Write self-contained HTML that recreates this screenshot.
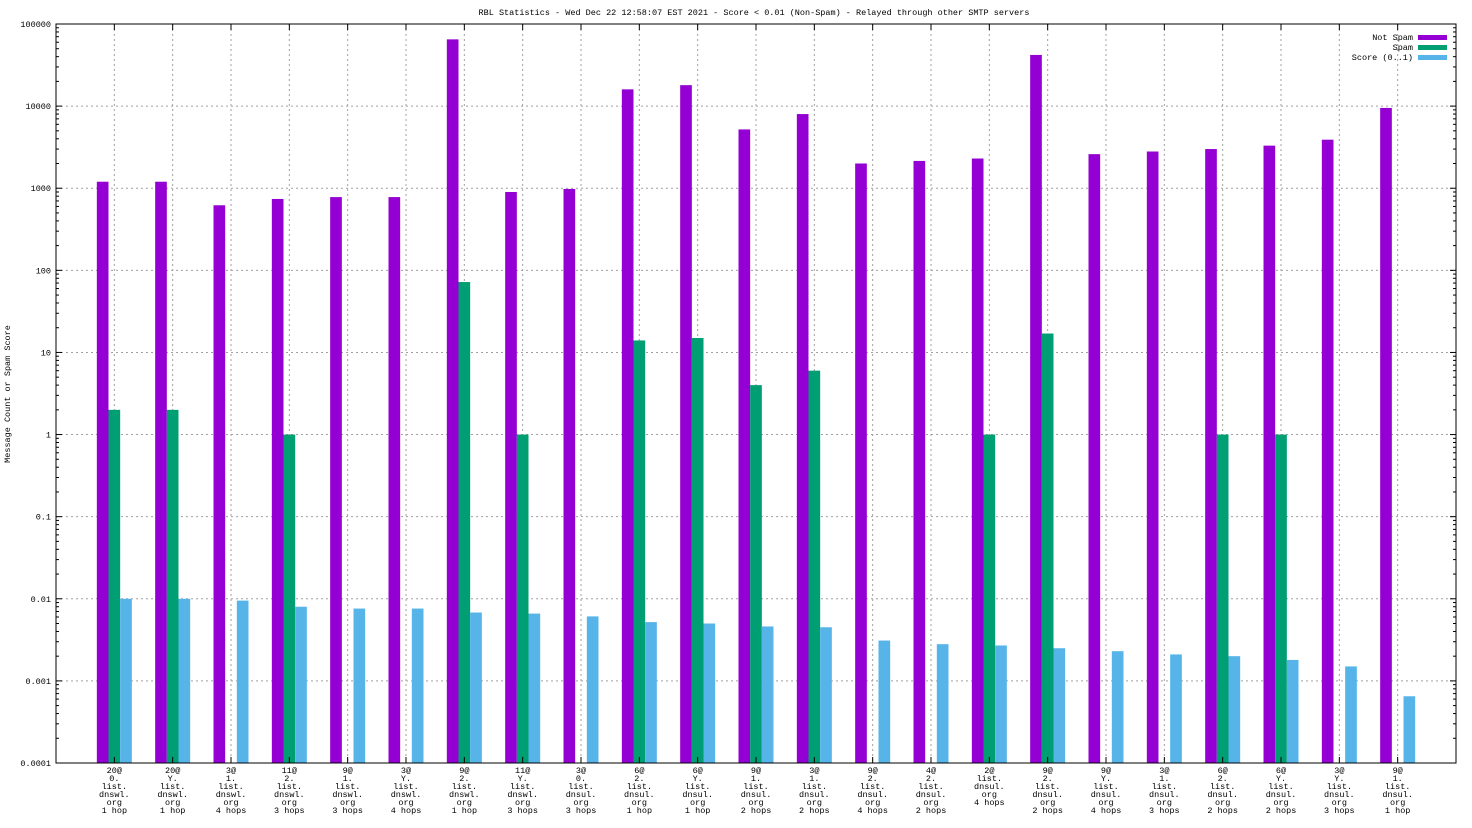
<!DOCTYPE html>
<html><head><meta charset="utf-8">
<style>
html,body{margin:0;padding:0;background:#fff;}
svg{display:block;font-family:"Liberation Mono","DejaVu Sans Mono",monospace;}
</style></head>
<body>
<svg id="chart" width="1472" height="828" viewBox="0 0 1472 828" xmlns="http://www.w3.org/2000/svg">
<text x="754" y="15" font-size="8.5" text-anchor="middle">RBL Statistics - Wed Dec 22 12:58:07 EST 2021 - Score &lt; 0.01 (Non-Spam) - Relayed through other SMTP servers</text>
<text transform="translate(10,394) rotate(-90)" font-size="8.5" text-anchor="middle">Message Count or Spam Score</text>
<g id="grid"></g><g id="bars"></g><g id="axes"></g>
<g font-size="8.5">
<text x="1413" y="40" text-anchor="end">Not Spam</text><rect x="1418" y="35" width="29" height="5" fill="#9400d3"/>
<text x="1413" y="50" text-anchor="end">Spam</text><rect x="1418" y="45" width="29" height="5" fill="#009e73"/>
<text x="1413" y="60" text-anchor="end">Score (0..1)</text><rect x="1418" y="55" width="29" height="5" fill="#56b4e9"/>
</g>
</svg>
<script>
const categories=[["20@","0.","list.","dnswl.","org","1 hop"],["20@","Y.","list.","dnswl.","org","1 hop"],["3@","1.","list.","dnswl.","org","4 hops"],["11@","2.","list.","dnswl.","org","3 hops"],["9@","1.","list.","dnswl.","org","3 hops"],["3@","Y.","list.","dnswl.","org","4 hops"],["9@","2.","list.","dnswl.","org","1 hop"],["11@","Y.","list.","dnswl.","org","3 hops"],["3@","0.","list.","dnsul.","org","3 hops"],["6@","2.","list.","dnsul.","org","1 hop"],["6@","Y.","list.","dnsul.","org","1 hop"],["9@","1.","list.","dnsul.","org","2 hops"],["3@","1.","list.","dnsul.","org","2 hops"],["9@","2.","list.","dnsul.","org","4 hops"],["4@","2.","list.","dnsul.","org","2 hops"],["2@","list.","dnsul.","org","4 hops"],["9@","2.","list.","dnsul.","org","2 hops"],["9@","Y.","list.","dnsul.","org","4 hops"],["3@","1.","list.","dnsul.","org","3 hops"],["6@","2.","list.","dnsul.","org","2 hops"],["6@","Y.","list.","dnsul.","org","2 hops"],["3@","Y.","list.","dnsul.","org","3 hops"],["9@","1.","list.","dnsul.","org","1 hop"]];
const notSpam=[1200,1200,620,740,780,780,65000,900,980,16000,18000,5200,8000,2000,2150,2300,42000,2600,2800,3000,3300,3900,9500];
const spam=[2,2,0,1,0,0,72,1,0,14,15,4,6,0,0,1,17,0,0,1,1,0,0];
const score=[0.0100,0.0100,0.0095,0.0080,0.0076,0.0076,0.0068,0.0066,0.0061,0.0052,0.0050,0.0046,0.0045,0.0031,0.0028,0.0027,0.0025,0.0023,0.0021,0.0020,0.0018,0.0015,0.00065];
const yTicks=["0.0001","0.001","0.01","0.1","1","10","100","1000","10000","100000"];
const NS="http://www.w3.org/2000/svg";
const L=56,R=1456,T=24,B=763;
function xs(i){return L+(i+1)*(R-L)/24;}
function ys(v){return B-(Math.log10(v)+4)*(B-T)/9;}
function mk(tag,attrs,parent){const e=document.createElementNS(NS,tag);for(const k in attrs)e.setAttribute(k,attrs[k]);parent.appendChild(e);return e;}
const grid=document.getElementById('grid'),bars=document.getElementById('bars'),axes=document.getElementById('axes');
yTicks.forEach((t,j)=>{const y=ys(parseFloat(t));
 if(j>0&&j<yTicks.length-1){const g=mk('line',{x1:L,x2:R,y1:y,y2:y,stroke:'#a0a0a0','stroke-dasharray':'2,3','stroke-width':1},grid);
 
 }
 const tl=mk('text',{x:L-5,y:y+3,'font-size':8.5,'text-anchor':'end'},axes);tl.textContent=t;
 
 
 mk('line',{x1:L,x2:L+6,y1:y,y2:y,stroke:'#000'},axes);mk('line',{x1:R,x2:R-6,y1:y,y2:y,stroke:'#000'},axes);
 if(j<yTicks.length-1){for(let k=2;k<10;k++){const yy=ys(parseFloat(t)*k);mk('line',{x1:L,x2:L+3,y1:yy,y2:yy,stroke:'#000'},axes);mk('line',{x1:R,x2:R-3,y1:yy,y2:yy,stroke:'#000'},axes);}}
});
const bw=(R-L)/24*0.2;
categories.forEach((c,i)=>{const x=xs(i);
 const g=mk('line',{x1:x,x2:x,y1:T,y2:B,stroke:'#a0a0a0','stroke-dasharray':'2,3'},grid);
 
 
 mk('line',{x1:x,x2:x,y1:B,y2:B-6,stroke:'#000'},axes);mk('line',{x1:x,x2:x,y1:T,y2:T+6,stroke:'#000'},axes);
 [[notSpam,'#9400d3','bar-not-spam',-1.5],[spam,'#009e73','bar-spam',-0.5],[score,'#56b4e9','bar-score',0.5]].forEach(([arr,col,nm,off])=>{
  const v=arr[i];if(!(v>0))return;const y=ys(v);
  const r=mk('rect',{x:x+off*bw,y:y,width:bw,height:B-y,fill:col},bars);
  
  
 });
 const t=mk('text',{'font-size':8.5,'text-anchor':'middle'},axes);
 
 
 c.forEach((ln,k)=>{const s=mk('tspan',{x:x,y:773+k*8},t);s.textContent=ln;});
});
mk('rect',{x:L,y:T,width:R-L,height:B-T,fill:'none',stroke:'#000','stroke-width':1},axes);
</script>
</body></html>
